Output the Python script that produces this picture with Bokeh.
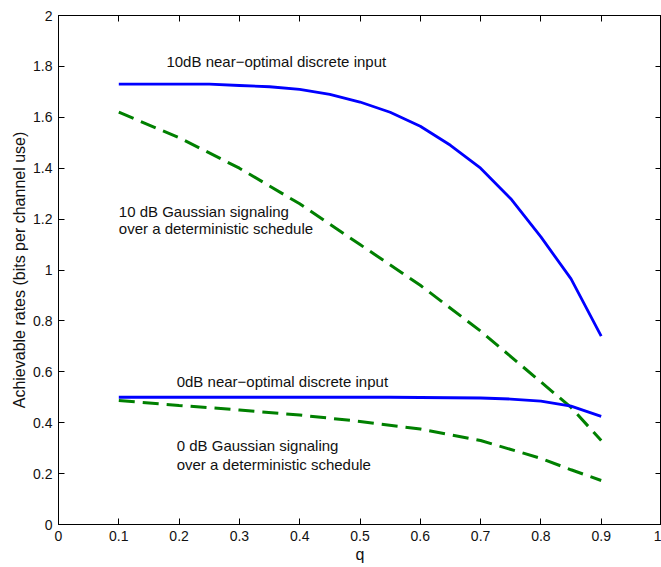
from bokeh.plotting import figure
from bokeh.models import LinearAxis, Range1d, FixedTicker, Label
from bokeh.embed import file_html
from bokeh.resources import INLINE

# ---- data ----
q = [0.1, 0.15, 0.2, 0.25, 0.3, 0.35, 0.4, 0.45, 0.5, 0.55, 0.6, 0.65, 0.7, 0.75, 0.8, 0.85, 0.9]
near_opt_10db = [1.73, 1.73, 1.73, 1.73, 1.725, 1.72, 1.71, 1.69, 1.66, 1.62, 1.565, 1.49, 1.40, 1.28, 1.13, 0.965, 0.74]
near_opt_0db = [0.50, 0.50, 0.50, 0.50, 0.50, 0.50, 0.50, 0.50, 0.50, 0.50, 0.499, 0.498, 0.497, 0.493, 0.485, 0.465, 0.425]
q_g = [0.1, 0.2, 0.3, 0.4, 0.5, 0.6, 0.7, 0.8, 0.85, 0.9]
gauss_10db = [1.62, 1.52, 1.40, 1.26, 1.10, 0.94, 0.76, 0.56, 0.46, 0.33]
gauss_0db = [0.487, 0.468, 0.45, 0.43, 0.405, 0.375, 0.33, 0.26, 0.215, 0.173]

x_ticks = [0, 0.1, 0.2, 0.3, 0.4, 0.5, 0.6, 0.7, 0.8, 0.9, 1]
x_labels = ["0", "0.1", "0.2", "0.3", "0.4", "0.5", "0.6", "0.7", "0.8", "0.9", "1"]
y_ticks = [0, 0.2, 0.4, 0.6, 0.8, 1, 1.2, 1.4, 1.6, 1.8, 2]
y_labels = ["0", "0.2", "0.4", "0.6", "0.8", "1", "1.2", "1.4", "1.6", "1.8", "2"]

annotations = [
    (0.179, 1.82, "10dB near\u2212optimal discrete input"),
    (0.1, 1.23, "10 dB Gaussian signaling"),
    (0.1, 1.163, "over a deterministic schedule"),
    (0.196, 0.562, "0dB near\u2212optimal discrete input"),
    (0.196, 0.31, "0 dB Gaussian signaling"),
    (0.196, 0.236, "over a deterministic schedule"),
]

FONT = "Liberation Sans"

p = figure(width=661, height=567, output_backend="svg", toolbar_location=None,
           x_range=Range1d(0, 1), y_range=Range1d(0, 2),
           min_border_left=58, min_border_right=0, min_border_top=15, min_border_bottom=43,
           x_axis_label="q", y_axis_label="Achievable rates (bits per channel use)")
p.xgrid.visible = False
p.ygrid.visible = False
p.outline_line_color = "black"
p.outline_line_width = 1
p.background_fill_color = "white"
p.border_fill_color = "white"

p.line(q, near_opt_10db, line_color="#0000ff", line_width=2.8)
p.line(q_g, gauss_10db, line_color="#008000", line_width=3, line_dash="16 8")
p.line(q, near_opt_0db, line_color="#0000ff", line_width=2.8)
p.line(q_g, gauss_0db, line_color="#008000", line_width=3, line_dash="16 8")

for x, y, t in annotations:
    p.add_layout(Label(x=x, y=y, text=t, text_font=FONT, text_font_size="15px",
                       text_baseline="middle", text_align="left", text_color="#111111"))

def style(ax, ticks, labels, show_labels=True):
    ax.ticker = FixedTicker(ticks=ticks)
    if show_labels:
        ax.major_label_overrides = {t: l for t, l in zip(ticks, labels)}
    else:
        ax.major_label_overrides = {t: "" for t in ticks}
    ax.major_tick_in = 6
    ax.major_tick_out = 0
    ax.minor_tick_in = 0
    ax.minor_tick_out = 0
    ax.axis_line_color = "black"
    ax.major_tick_line_color = "black"
    ax.major_label_text_font = FONT
    ax.major_label_text_font_size = "14px"
    ax.major_label_text_color = "#111111"
    ax.major_label_standoff = 6 if show_labels else 0
    ax.axis_label_text_font = FONT
    ax.axis_label_text_font_style = "normal"
    ax.axis_label_text_font_size = "16px"
    ax.axis_label_text_color = "#111111"
    ax.axis_label_standoff = 2

style(p.xaxis[0], x_ticks, x_labels)
style(p.yaxis[0], y_ticks, y_labels)

top = LinearAxis()
right = LinearAxis()
style(top, x_ticks, x_labels, show_labels=False)
style(right, y_ticks, y_labels, show_labels=False)
p.add_layout(top, "above")
p.add_layout(right, "right")

open("out.html", "w").write(file_html(p, INLINE))
